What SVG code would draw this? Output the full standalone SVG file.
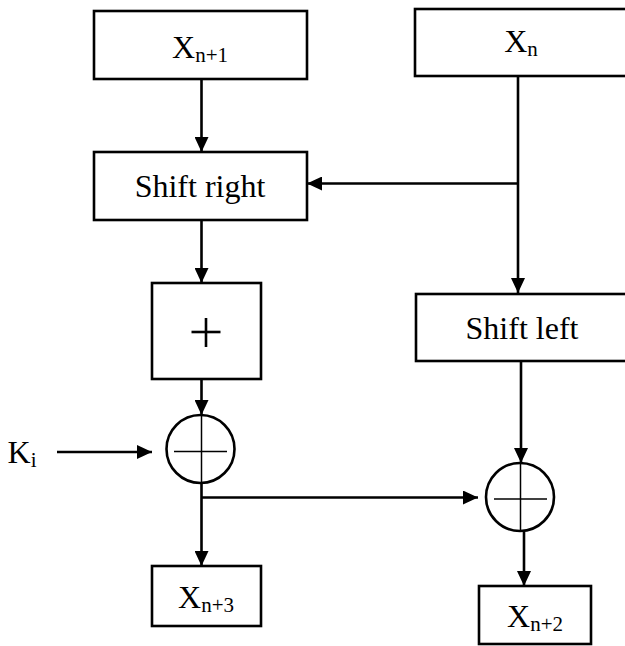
<svg xmlns="http://www.w3.org/2000/svg" width="625" height="646" viewBox="0 0 625 646">
<defs>
<marker id="ah" markerUnits="userSpaceOnUse" markerWidth="15" markerHeight="14" refX="15" refY="7" orient="auto">
<path d="M0,0 L15,7 L0,14 z" fill="#000"/>
</marker>
<style>
.box{fill:#fff;stroke:#000;stroke-width:2.6}
.ln{fill:none;stroke:#000;stroke-width:2.6}
.thin{fill:none;stroke:#000;stroke-width:1.5}
.t{font-family:"Liberation Serif","Times New Roman",serif;font-size:32px;fill:#000;text-anchor:middle}
.s{font-size:21px}
</style>
</defs>
<rect width="625" height="646" fill="#fff"/>
<g id="connectors">
<line class="ln" x1="201.5" y1="79" x2="201.5" y2="152" marker-end="url(#ah)"/>
<line class="ln" x1="518" y1="76" x2="518" y2="293" marker-end="url(#ah)"/>
<line class="ln" x1="518" y1="183.5" x2="307" y2="183.5" marker-end="url(#ah)"/>
<line class="ln" x1="201.5" y1="220" x2="201.5" y2="283" marker-end="url(#ah)"/>
<line class="ln" x1="201.5" y1="379" x2="201.5" y2="415" marker-end="url(#ah)"/>
<line class="ln" x1="57" y1="452" x2="152" y2="452" marker-end="url(#ah)"/>
<line class="ln" x1="201.5" y1="483" x2="201.5" y2="566" marker-end="url(#ah)"/>
<line class="ln" x1="201.5" y1="497.5" x2="478" y2="497.5" marker-end="url(#ah)"/>
<line class="ln" x1="521" y1="361" x2="521" y2="463" marker-end="url(#ah)"/>
<line class="ln" x1="524" y1="531" x2="524" y2="586" marker-end="url(#ah)"/>
</g>
<g id="xn1">
<rect class="box" x="94" y="11" width="213" height="68"/>
<text class="t" x="200" y="58">X<tspan class="s" dy="4">n+1</tspan></text>
</g>
<g id="xn">
<rect class="box" x="415" y="9" width="215" height="67"/>
<text class="t" x="521" y="52">X<tspan class="s" dy="4">n</tspan></text>
</g>
<g id="shiftright">
<rect class="box" x="94" y="152" width="213" height="68"/>
<text class="t" x="200" y="197">Shift right</text>
</g>
<g id="add">
<rect class="box" x="152" y="283" width="109" height="96"/>
<line class="ln" x1="191.5" y1="332" x2="220.5" y2="332"/>
<line class="ln" x1="206" y1="318" x2="206" y2="347"/>
</g>
<g id="shiftleft">
<rect class="box" x="416" y="294" width="214" height="67"/>
<text class="t" x="522" y="339">Shift left</text>
</g>
<g id="ki">
<text class="t" x="22" y="463">K<tspan class="s" dy="4">i</tspan></text>
</g>
<g id="xor1">
<circle class="ln" cx="200.5" cy="449" r="34"/>
<line class="thin" x1="174" y1="451.5" x2="227" y2="451.5"/>
<line class="thin" x1="201.5" y1="415" x2="201.5" y2="483"/>
</g>
<g id="xor2">
<circle class="ln" cx="520" cy="497" r="34"/>
<line class="thin" x1="494" y1="499" x2="547" y2="499"/>
<line class="thin" x1="520.5" y1="463" x2="520.5" y2="531"/>
</g>
<g id="xn3">
<rect class="box" x="152" y="566" width="109" height="60"/>
<text class="t" x="206" y="608">X<tspan class="s" dy="4">n+3</tspan></text>
</g>
<g id="xn2">
<rect class="box" x="479" y="586" width="112" height="58"/>
<text class="t" x="535" y="627">X<tspan class="s" dy="4">n+2</tspan></text>
</g>
</svg>
